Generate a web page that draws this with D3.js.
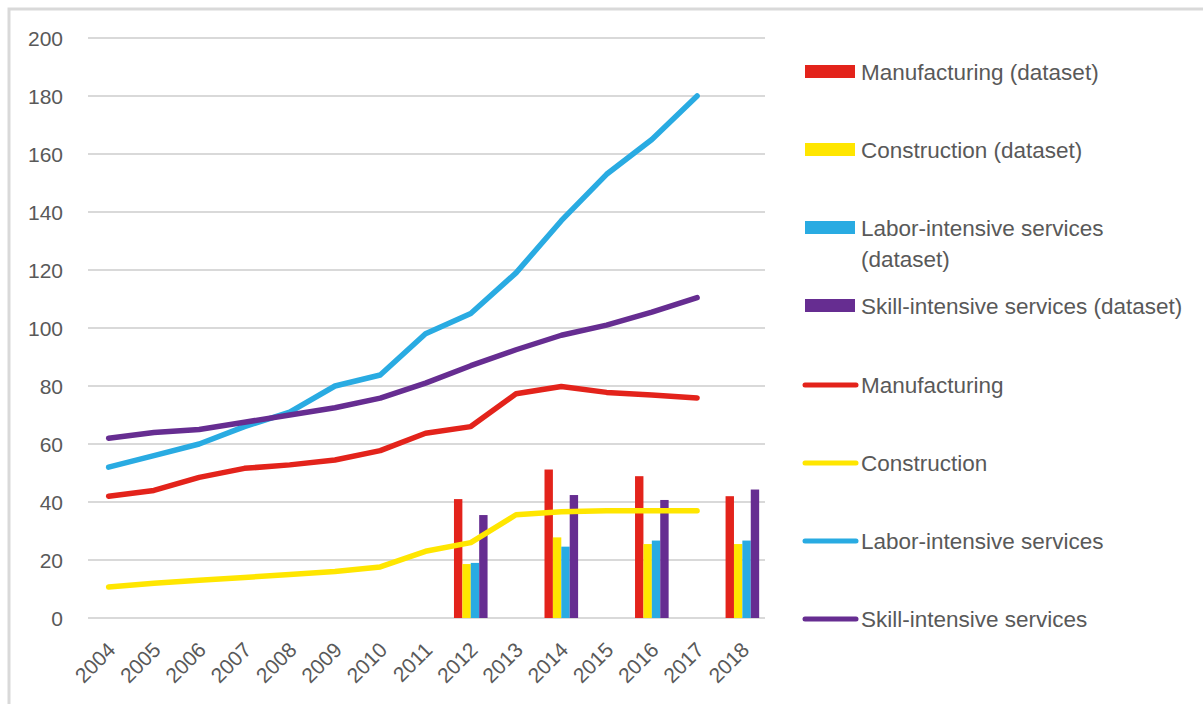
<!DOCTYPE html>
<html>
<head>
<meta charset="utf-8">
<script src="https://cdn.jsdelivr.net/npm/d3@7"></script>
<style>
  body { margin: 0; background: #fff; }
  text { font-family: "Liberation Sans", Arial, sans-serif; fill: #595959; }
</style>
</head>
<body>
<div id="chart"></div>
<script>
// years on the x axis
var years = ["2004","2005","2006","2007","2008","2009","2010","2011","2012","2013","2014","2015","2016","2017","2018"];
var yTicks = [0, 20, 40, 60, 80, 100, 120, 140, 160, 180, 200];

// line series (2004-2017)
var lineYears = years.slice(0, 14);
var manufacturing = [42, 44, 48.5, 51.6, 52.8, 54.5, 57.7, 63.7, 66, 77.3, 79.8, 77.8, 76.9, 75.9];
var construction  = [10.7, 12, 13, 14, 15, 16, 17.6, 23, 26, 35.6, 36.6, 37, 37, 37];
var laborServ     = [52, 56, 60, 66, 71, 80, 83.8, 98, 105, 119, 137, 153, 165, 180];
var skillServ     = [62, 64, 65, 67.5, 70, 72.5, 75.8, 81, 87, 92.5, 97.5, 101, 105.5, 110.5];

// bar series (dataset)
var barYears = ["2012", "2014", "2016", "2018"];
var manufacturingDs = [41, 51.2, 48.9, 42];
var constructionDs  = [18.6, 27.8, 25.5, 25.5];
var laborServDs     = [19, 24.6, 26.7, 26.7];
var skillServDs     = [35.5, 42.4, 40.7, 44.3];

var red = "#e3231b", yellow = "#ffe600", blue = "#29abe2", purple = "#662d91";

var width = 1203, height = 704;

var svg = d3.select("#chart")
  .append("svg")
    .attr("width", width)
    .attr("height", height);

// outer frame (top + left only)
svg.append("path")
  .attr("d", "M9,704 L9,9 L1203,9")
  .attr("fill", "none")
  .attr("stroke", "#d9d9d9")
  .attr("stroke-width", 3);

var x = d3.scaleBand()
  .domain(years)
  .range([86, 765]);

var y = d3.scaleLinear()
  .domain([0, 200])
  .range([618, 38]);

// gridlines
svg.append("g")
  .selectAll("line")
  .data(yTicks)
  .enter()
  .append("line")
    .attr("x1", 88)
    .attr("x2", 765)
    .attr("y1", d => y(d))
    .attr("y2", d => y(d))
    .attr("stroke", "#d9d9d9")
    .attr("stroke-width", 2);

// y labels
svg.append("g")
  .selectAll("text")
  .data(yTicks)
  .enter()
  .append("text")
    .attr("x", 63)
    .attr("y", d => y(d))
    .attr("dy", "0.36em")
    .attr("text-anchor", "end")
    .style("font-size", "21px")
    .text(d => d);

// x labels, rotated
svg.append("g")
  .selectAll("text")
  .data(years)
  .enter()
  .append("text")
    .attr("transform", d => "translate(" + (x(d) + x.bandwidth() / 2 + 3) + ",646) rotate(-45)")
    .attr("text-anchor", "end")
    .attr("dy", "0.35em")
    .style("font-size", "21px")
    .text(d => d);

// grouped bars
var barSeries = [
  { values: manufacturingDs, color: red },
  { values: constructionDs, color: yellow },
  { values: laborServDs, color: blue },
  { values: skillServDs, color: purple }
];

var inner = d3.scaleBand()
  .domain(d3.range(barSeries.length))
  .range([-16.8, 16.8]);

barSeries.forEach(function(s, i) {
  svg.append("g")
    .selectAll("rect")
    .data(barYears)
    .enter()
    .append("rect")
      .attr("x", d => x(d) + x.bandwidth() / 2 + inner(i))
      .attr("width", inner.bandwidth())
      .attr("y", (d, j) => y(s.values[j]))
      .attr("height", (d, j) => y(0) - y(s.values[j]))
      .attr("fill", s.color);
});

// lines
var lineSeries = [
  { values: manufacturing, color: red },
  { values: construction, color: yellow },
  { values: laborServ, color: blue },
  { values: skillServ, color: purple }
];

var line = d3.line()
  .x((d, i) => x(lineYears[i]) + x.bandwidth() / 2)
  .y(d => y(d));

lineSeries.forEach(function(s) {
  svg.append("path")
    .datum(s.values)
    .attr("d", line)
    .attr("fill", "none")
    .attr("stroke", s.color)
    .attr("stroke-width", 5.5)
    .attr("stroke-linejoin", "round")
    .attr("stroke-linecap", "round");
});

// legend
var legendItems = [
  { label: ["Manufacturing (dataset)"], color: red, type: "bar", y: 72 },
  { label: ["Construction (dataset)"], color: yellow, type: "bar", y: 150 },
  { label: ["Labor-intensive services", "(dataset)"], color: blue, type: "bar", y: 228 },
  { label: ["Skill-intensive services (dataset)"], color: purple, type: "bar", y: 306 },
  { label: ["Manufacturing"], color: red, type: "line", y: 385 },
  { label: ["Construction"], color: yellow, type: "line", y: 463 },
  { label: ["Labor-intensive services"], color: blue, type: "line", y: 541 },
  { label: ["Skill-intensive services"], color: purple, type: "line", y: 619 }
];

var legend = svg.append("g");

legendItems.forEach(function(item) {
  if (item.type == "bar") {
    legend.append("rect")
      .attr("x", 805)
      .attr("y", item.y - 7)
      .attr("width", 50)
      .attr("height", 13)
      .attr("fill", item.color);
  }
  else {
    legend.append("line")
      .attr("x1", 805)
      .attr("x2", 856)
      .attr("y1", item.y)
      .attr("y2", item.y)
      .attr("stroke", item.color)
      .attr("stroke-width", 5)
      .attr("stroke-linecap", "round");
  }
  var t = legend.append("text")
    .attr("x", 861)
    .attr("y", item.y)
    .style("font-size", "22.5px");
  item.label.forEach(function(l, k) {
    t.append("tspan")
      .attr("x", 861)
      .attr("dy", k == 0 ? "0.35em" : "1.4em")
      .text(l);
  });
});
</script>
</body>
</html>
